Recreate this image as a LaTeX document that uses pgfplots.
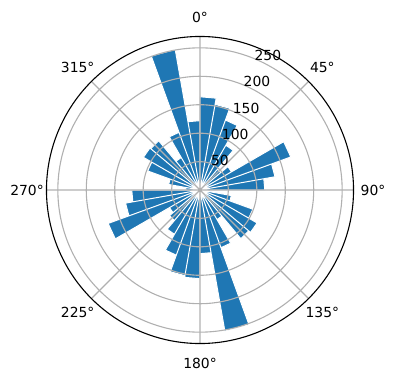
\documentclass[border=0pt]{standalone}
\usepackage{fontspec}
\setmainfont{DejaVu Sans}
\usepackage{pgfplots}
\pgfplotsset{compat=1.18}
\usepgfplotslibrary{polar}
\definecolor{barblue}{HTML}{1F77B4}
\definecolor{gridgray}{HTML}{B0B0B0}
\begin{document}
\begin{tikzpicture}
\path[use as bounding box] (-200bp,-190bp) rectangle (196bp,190bp);
\begin{polaraxis}[
  at={(0,0)}, anchor=center,
  scale only axis, width=307bp, height=307bp,
  xmin=-292.5, xmax=67.5,
  ymin=0, ymax=270,
  xtick={-270,-225,-180,-135,-90,-45,0,45},
  xticklabels={0°,315°,270°,225°,180°,135°,90°,45°},
  ytick={50,100,150,200,250},
  /pgf/number format/assume math mode=true,
  tick label style={font=\fontsize{13.9bp}{16bp}\selectfont},
  xticklabel style={anchor=center, shift={(\tick:19.5bp)}},
  yticklabel style={anchor=base west, inner sep=0pt, yshift=-2bp},
  major tick length=0pt,
  xmajorgrids, ymajorgrids,
  major grid style={color=gridgray, line width=1.1bp},
  axis line style={black, line width=1.1bp},
  y axis line style={draw=none},
  axis on top,
]
\addplot[fill=barblue, draw=white, line width=1bp] coordinates {
(0,0) (80,164) (90,164)
(0,0) (70,153) (80,153)
(0,0) (60,131) (70,131)
(0,0) (50,91) (60,91)
(0,0) (40,48) (50,48)
(0,0) (30,64) (40,64)
(0,0) (20,170) (30,170)
(0,0) (10,134) (20,134)
(0,0) (0,114) (10,114)
(0,0) (-10,18) (0,18)
(0,0) (-20,56) (-10,56)
(0,0) (-30,99) (-20,99)
(0,0) (-40,116) (-30,116)
(0,0) (-50,112) (-40,112)
(0,0) (-60,60) (-50,60)
(0,0) (-70,108) (-60,108)
(0,0) (-80,252) (-70,252)
(0,0) (-90,112) (-80,112)
(0,0) (-100,156) (-90,156)
(0,0) (-110,153) (-100,153)
(0,0) (-120,122) (-110,122)
(0,0) (-130,90) (-120,90)
(0,0) (-140,70) (-130,70)
(0,0) (-150,62) (-140,62)
(0,0) (-160,172) (-150,172)
(0,0) (-170,133) (-160,133)
(0,0) (-180,120) (-170,120)
(0,0) (-190,25) (-180,25)
(0,0) (-200,56) (-190,56)
(0,0) (-210,98) (-200,98)
(0,0) (-220,115) (-210,115)
(0,0) (-230,113) (-220,113)
(0,0) (-240,66) (-230,66)
(0,0) (-250,108) (-240,108)
(0,0) (-260,251) (-250,251)
(0,0) (-270,122) (-260,122)
(0,0)};
\end{polaraxis}
\end{tikzpicture}
\end{document}
